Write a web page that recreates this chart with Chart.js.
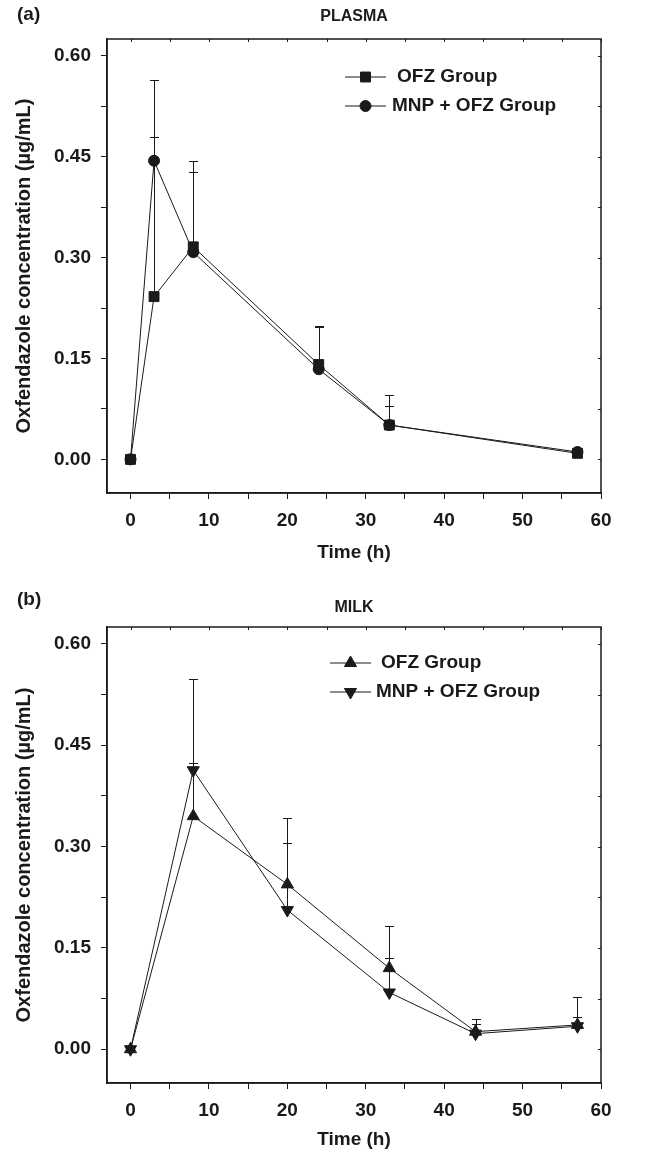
<!DOCTYPE html>
<html>
<head>
<meta charset="utf-8">
<script src="https://cdn.jsdelivr.net/npm/chart.js@4"></script>
<style>
  html, body { margin: 0; padding: 0; background: #fff; }
  #wrap { position: relative; width: 660px; height: 1151px; }
  canvas { position: absolute; left: 0; }
</style>
</head>
<body>
<div id="wrap">
  <canvas id="plasmaChart" width="660" height="575" style="top:0"></canvas>
  <canvas id="milkChart" width="660" height="576" style="top:575px"></canvas>
</div>
<script>
// Données (moyenne + écart-type, barre vers le haut)
const plasmaTime = [0, 3, 8, 24, 33, 57];
const plasmaOfz = [0, 0.242, 0.316, 0.141, 0.051, 0.009];
const plasmaOfzSd = [0, 0.237, 0.128, 0.058, 0.044, 0.003];
const plasmaMnp = [0, 0.444, 0.308, 0.134, 0.051, 0.011];
const plasmaMnpSd = [0, 0.120, 0.119, 0.063, 0.028, 0.003];

const milkTime = [0, 8, 20, 33, 44, 57];
const milkOfz = [0, 0.345, 0.244, 0.120, 0.026, 0.036];
const milkOfzSd = [0, 0.079, 0.099, 0.063, 0.018, 0.011];
const milkMnp = [0, 0.413, 0.206, 0.084, 0.023, 0.034];
const milkMnpSd = [0, 0.135, 0.099, 0.051, 0.015, 0.044];

const xTicks = [0, 5, 10, 15, 20, 25, 30, 35, 40, 45, 50, 55, 60];
const yTicks = [0, 0.075, 0.15, 0.225, 0.30, 0.375, 0.45, 0.525, 0.60];
const seriesLabels = ['OFZ Group', 'MNP + OFZ Group'];

const FONT = "'Liberation Sans', Arial, sans-serif";
const INK = '#1a1a1a';

const toPoints = (xs, ys) => xs.map((x, i) => ({ x, y: ys[i] }));

// barres d'erreur, cadre, légende et titres
const panelDecor = {
    id: 'panelDecor',
    beforeDatasetsDraw(chart) {
        const { ctx, scales: { x, y } } = chart;
        ctx.save();
        ctx.strokeStyle = INK;
        ctx.lineWidth = 1;
        chart.data.datasets.forEach(ds => {
            ds.data.forEach((p, i) => {
                const sd = ds.errors[i];
                if (!sd) return;
                const px = Math.round(x.getPixelForValue(p.x)) + 0.5;
                const y0 = y.getPixelForValue(p.y);
                const y1 = Math.round(y.getPixelForValue(p.y + sd)) + 0.5;
                ctx.beginPath();
                ctx.moveTo(px, y0);
                ctx.lineTo(px, y1);
                ctx.moveTo(px - 4.5, y1);
                ctx.lineTo(px + 4.5, y1);
                ctx.stroke();
            });
        });
        ctx.restore();
    },
    afterDraw(chart, args, opts) {
        const { ctx, chartArea: a, scales: { x, y } } = chart;
        ctx.save();
        // cadre
        ctx.strokeStyle = INK;
        ctx.lineWidth = 1.5;
        ctx.strokeRect(a.left, a.top, a.right - a.left, a.bottom - a.top);
        // petites graduations internes haut / droite
        ctx.lineWidth = 1;
        ctx.beginPath();
        x.ticks.forEach(t => {
            const px = Math.round(x.getPixelForValue(t.value)) + 0.5;
            ctx.moveTo(px, a.top);
            ctx.lineTo(px, a.top + 3);
        });
        y.ticks.forEach(t => {
            const py = Math.round(y.getPixelForValue(t.value)) + 0.5;
            ctx.moveTo(a.right, py);
            ctx.lineTo(a.right - 3, py);
        });
        ctx.stroke();

        // titres
        ctx.fillStyle = INK;
        ctx.textBaseline = 'middle';
        ctx.font = `bold 19px ${FONT}`;
        ctx.textAlign = 'left';
        ctx.fillText(opts.label, 17, opts.labelY);
        ctx.font = `bold 16px ${FONT}`;
        ctx.textAlign = 'center';
        ctx.fillText(opts.title, (a.left + a.right) / 2, opts.titleY);

        // légende
        chart.data.datasets.forEach((ds, i) => {
            const row = opts.legend[i];
            ctx.strokeStyle = INK;
            ctx.fillStyle = INK;
            ctx.lineWidth = 1;
            ctx.beginPath();
            ctx.moveTo(opts.legendX, row.y);
            ctx.lineTo(opts.legendX + 41, row.y);
            ctx.stroke();
            Chart.helpers.drawPoint(ctx, {
                radius: ds.pointRadius,
                pointStyle: ds.pointStyle,
                rotation: ds.pointRotation || 0,
                borderWidth: 1,
            }, opts.legendX + 20.5, row.y);
            ctx.font = `bold 19px ${FONT}`;
            ctx.textAlign = 'left';
            ctx.textBaseline = 'middle';
            ctx.fillText(ds.label, row.textX, row.y);
        });
        ctx.restore();
    },
};

function makeDataset(label, xs, ys, sd, style, radius, rotation) {
    return {
        label,
        data: toPoints(xs, ys),
        errors: sd,
        borderColor: INK,
        borderWidth: 1,
        backgroundColor: INK,
        pointBackgroundColor: INK,
        pointBorderColor: INK,
        pointStyle: style,
        pointRadius: radius,
        pointRotation: rotation || 0,
        tension: 0,
        fill: false,
    };
}

function panelOptions(decor, padding, xHeight) {
    return {
        responsive: false,
        animation: false,
        layout: { padding },
        plugins: {
            legend: { display: false },
            tooltip: { enabled: false },
            panelDecor: decor,
        },
        scales: {
            x: {
                type: 'linear',
                min: -3,
                max: 60,
                afterBuildTicks: s => { s.ticks = xTicks.map(v => ({ value: v })); },
                afterFit: s => { s.height = xHeight; },
                grid: { drawOnChartArea: false, color: INK, tickLength: 6, lineWidth: 1 },
                border: { color: INK, width: 1.5 },
                ticks: {
                    autoSkip: false, maxRotation: 0, padding: 10, color: INK,
                    font: { family: FONT, size: 19, weight: 'bold' },
                    callback: v => (v % 10 === 0 ? String(v) : ''),
                },
                title: {
                    display: true, text: 'Time (h)', color: INK, padding: 0,
                    font: { family: FONT, size: 19, weight: 'bold' },
                },
            },
            y: {
                min: -0.05,
                max: 0.625,
                afterBuildTicks: s => { s.ticks = yTicks.map(v => ({ value: v })); },
                afterFit: s => { s.width = 95; },
                grid: { drawOnChartArea: false, color: INK, tickLength: 6, lineWidth: 1 },
                border: { color: INK, width: 1.5 },
                ticks: {
                    autoSkip: false, padding: 10, color: INK,
                    font: { family: FONT, size: 19, weight: 'bold' },
                    callback: v => {
                        const k = v / 0.15;
                        return Math.abs(k - Math.round(k)) < 1e-6 ? v.toFixed(2) : '';
                    },
                },
                title: {
                    display: true, text: 'Oxfendazole concentration (µg/mL)', color: INK,
                    padding: 0,
                    font: { family: FONT, size: 20, weight: 'bold' },
                },
            },
        },
    };
}

// PLASMA
new Chart(document.getElementById('plasmaChart'), {
    type: 'line',
    data: {
        datasets: [
            makeDataset(seriesLabels[0], plasmaTime, plasmaOfz, plasmaOfzSd, 'rect', 7),
            makeDataset(seriesLabels[1], plasmaTime, plasmaMnp, plasmaMnpSd, 'circle', 5.5),
        ],
    },
    options: panelOptions(
        {
            label: '(a)', labelY: 15, title: 'PLASMA', titleY: 17,
            legendX: 345,
            legend: [{ y: 77, textX: 397 }, { y: 106, textX: 392 }],
        },
        { top: 39, right: 59, bottom: 11, left: 12 },
        575 - 11 - 493
    ),
    plugins: [panelDecor],
});

// MILK
new Chart(document.getElementById('milkChart'), {
    type: 'line',
    data: {
        datasets: [
            makeDataset(seriesLabels[0], milkTime, milkOfz, milkOfzSd, 'triangle', 7),
            makeDataset(seriesLabels[1], milkTime, milkMnp, milkMnpSd, 'triangle', 7, 180),
        ],
    },
    options: panelOptions(
        {
            label: '(b)', labelY: 25, title: 'MILK', titleY: 33,
            legendX: 330,
            legend: [{ y: 88, textX: 381 }, { y: 117, textX: 376 }],
        },
        { top: 52, right: 59, bottom: 0, left: 12 },
        576 - 0 - 508
    ),
    plugins: [panelDecor],
});
</script>
</body>
</html>
